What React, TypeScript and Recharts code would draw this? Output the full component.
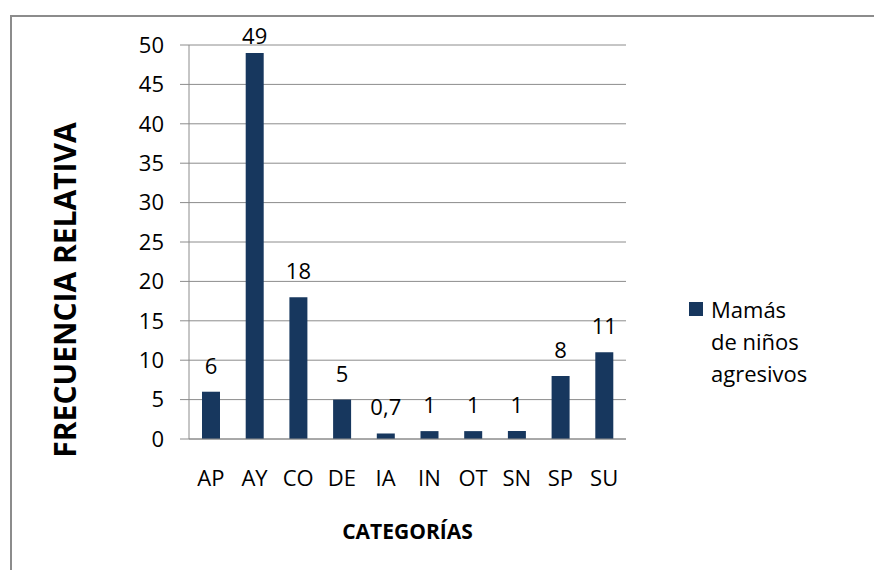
import { BarChart, Bar, XAxis, YAxis, CartesianGrid, LabelList } from 'recharts'

const categories = ['AP', 'AY', 'CO', 'DE', 'IA', 'IN', 'OT', 'SN', 'SP', 'SU']
const mamasValues = [6, 49, 18, 5, 0.7, 1, 1, 1, 8, 11]
const yTicks = [0, 5, 10, 15, 20, 25, 30, 35, 40, 45, 50]
const seriesName = 'Mamás de niños agresivos'

const data = categories.map((c, i) => ({ cat: c, mamas: mamasValues[i] }))

const FONT = '"Open Sans", sans-serif'
const BAR = '#17375e'
const GRID = '#8c8c8c'

const fmt = (v: number) => String(v).replace('.', ',')

function ValueLabel(props: any) {
  const { x, y, width, value } = props
  return (
    <text x={x + width / 2} y={Math.max(y - 18, 44)} textAnchor="middle" fontFamily={FONT} fontSize={22} fill="#000">
      {fmt(value)}
    </text>
  )
}

function LegendBox() {
  return (
    <div style={{ position: 'absolute', left: 689, top: 293, display: 'flex', alignItems: 'flex-start', fontFamily: FONT, fontSize: 22, lineHeight: '32px', color: '#000' }}>
      <div style={{ width: 14, height: 14, background: BAR, marginTop: 9, marginRight: 8 }} />
      <div style={{ width: 100 }}>{seriesName}</div>
    </div>
  )
}

export default function App() {
  return (
    <div style={{ position: 'absolute', left: 0, top: 0, width: 874, height: 570, background: '#fff', overflow: 'hidden' }}>
      <div style={{ position: 'absolute', left: 10, top: 15, width: 900, height: 600, border: '2px solid #8c8c8c' }} />
      <div style={{ position: 'absolute', left: 0, top: 0 }}>
        <BarChart width={874} height={570} data={data} margin={{ top: 45, right: 248, bottom: 0, left: 0 }} barCategoryGap={0}>
          <CartesianGrid vertical={false} stroke={GRID} strokeWidth={1} />
          <XAxis
            dataKey="cat"
            height={131}
            interval={0}
            tickLine={false}
            tickSize={0}
            tickMargin={31}
            axisLine={{ stroke: GRID }}
            tick={{ fontFamily: FONT, fontSize: 22, fill: '#000' }}
            label={({ viewBox }: any) => (
              <text x={viewBox.x + viewBox.width / 2} y={539} textAnchor="middle" fontFamily={FONT} fontSize={21} fontWeight="bold" fill="#000">
                CATEGORÍAS
              </text>
            )}
          />
          <YAxis
            width={189}
            domain={[0, 50]}
            ticks={yTicks}
            interval={0}
            tickSize={9}
            tickMargin={16}
            tickLine={{ stroke: GRID }}
            axisLine={{ stroke: GRID }}
            tick={{ fontFamily: FONT, fontSize: 22, fill: '#000' }}
            label={() => (
              <text x={76} y={290} transform="rotate(-90 76 290)" textAnchor="middle" fontFamily={FONT} fontSize={30} fontWeight="bold" fill="#000">
                FRECUENCIA RELATIVA
              </text>
            )}
          />
          <Bar dataKey="mamas" name={seriesName} fill={BAR} barSize={18} isAnimationActive={false}>
            <LabelList dataKey="mamas" content={ValueLabel} />
          </Bar>
        </BarChart>
      </div>
      <LegendBox />
    </div>
  )
}
